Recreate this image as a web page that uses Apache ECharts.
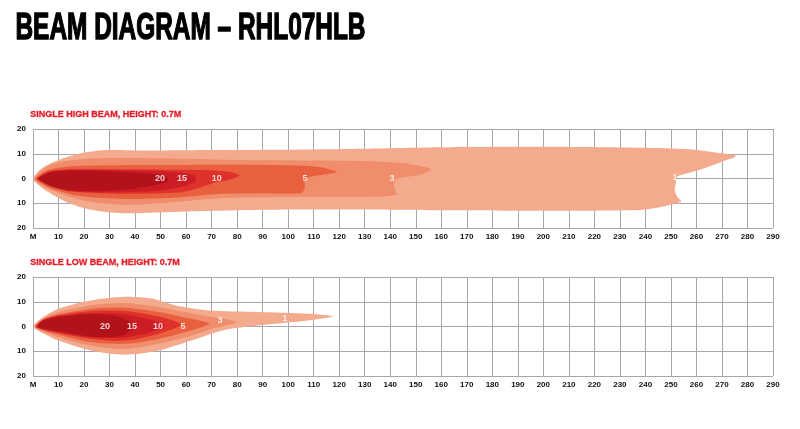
<!DOCTYPE html>
<html><head><meta charset="utf-8">
<script src="https://cdn.jsdelivr.net/npm/echarts@6/dist/echarts.min.js"></script>
<style>html,body{margin:0;padding:0;background:#fff}#c{width:800px;height:429px}</style>
</head><body><div id="c"></div>
<script>
// ---- data ----
const titleText = 'BEAM DIAGRAM – RHL07HLB';
const highTitle = 'SINGLE HIGH BEAM, HEIGHT: 0.7M';
const lowTitle = 'SINGLE LOW BEAM, HEIGHT: 0.7M';
const xTicks = [0,10,20,30,40,50,60,70,80,90,100,110,120,130,140,150,160,170,180,190,200,210,220,230,240,250,260,270,280,290];
const yTicks = [-20,-10,0,10,20];
const luxLevels = ['1','3','5','10','15','20'];

// high beam isolux contours [distance m, width m]
const highLux1 = [[0,0],[4,4.5],[10,7.5],[18,10],[28,11.5],[45,11.3],[70,11.5],[100,11.6],[130,12],[160,12.6],[200,12.8],[238,12.4],[257,11.8],[268,10.4],[275.5,9.1],[270,6.8],[261,3.4],[255,1.7],[252.5,0.8],[252,-1.5],[251.5,-4.5],[252.5,-7.5],[254,-9.3],[246,-11.5],[238,-12.7],[200,-13],[160,-12.8],[120,-12.5],[90,-12.6],[60,-13.3],[35,-14],[22,-12.5],[13,-9.5],[6,-5.5],[2,-2.5]];
const highLux3 = [[0.5,0],[5,4.5],[12,7],[25,8.2],[50,8.2],[80,7.5],[110,7.3],[132,7],[145,6.3],[152,5],[156,3.8],[152,1.6],[145,0.4],[142,-0.5],[141.5,-3.5],[142.5,-6.6],[132,-7.4],[100,-7.5],[73,-8],[50,-10],[35,-10.6],[20,-9],[9,-5.5],[3,-2.5]];
const highLux5 = [[1,0],[6,3.5],[15,5],[30,5.4],[60,5.5],[90,5.5],[104,5.3],[112,4.7],[119,2.6],[113,1.4],[108.5,0.7],[106.5,-1],[106.5,-4],[105,-5.9],[90,-6],[73,-6.3],[55,-7.8],[35,-8.3],[18,-7],[7,-4],[2.5,-1.5]];
const highLux10 = [[1.5,0],[6,2.8],[15,3.8],[40,3.6],[65,3.4],[76,2.8],[81,1.3],[77,-0.5],[72,-1.4],[66,-3.5],[57,-5.7],[35,-6.2],[18,-5.5],[7,-3.2],[3,-1.2]];
const highLux15 = [[1.8,0],[7,2.7],[15,3.4],[40,3.2],[55,2.6],[63,1.3],[64,-0.8],[60,-2.8],[50,-4.8],[30,-5.6],[15,-5.2],[7,-3.2],[3,-1]];
const highLux20 = [[2,0],[7,2.5],[15,3.1],[30,2.9],[44,2.1],[52,1],[53,-1],[48,-2.6],[38,-4.3],[25,-5],[14,-4.7],[7,-2.9],[3,-0.9]];

// low beam isolux contours
const lowLux1 = [[0,0],[4,3.8],[10,7.2],[23,10.6],[36,12],[46.5,11.3],[55.6,8.6],[68.7,6.5],[88,5.9],[108,5.2],[117.6,4.1],[108,2.4],[88,0.4],[75,-1.4],[62,-5.7],[49,-9.8],[36,-11.4],[23,-9.8],[10,-5.7],[3,-2.2]];
const lowLux3 = [[0.5,0],[4,3.3],[10,5.9],[23,8.6],[36,9.5],[49,7.9],[62,5.4],[70,3.8],[80,1.8],[70,-1],[62,-3.7],[49,-7],[36,-9.1],[23,-7.8],[10,-4.4],[3,-1.7]];
const lowLux5 = [[1,0],[4,2.9],[10,4.9],[23,7.2],[36,7.6],[49,5.9],[62,3.1],[69,1.1],[62,-1.6],[49,-5],[36,-7],[23,-6.4],[10,-3.3],[3,-1.3]];
const lowLux10 = [[1.2,0],[4,2.7],[10,4.5],[23,6.3],[36,6.3],[49,4.1],[58,0.8],[49,-3],[36,-5.7],[23,-5],[10,-2.7],[3,-1]];
const lowLux15 = [[1.4,0],[4,2.5],[10,4.1],[23,5.4],[36,4.9],[46,2.7],[51.7,0.4],[46,-2.3],[36,-4.4],[23,-4.4],[10,-2.3],[3,-0.8]];
const lowLux20 = [[1.6,0],[4,2.3],[10,3.8],[23,4.9],[33,4.1],[40,0.4],[35,-3.7],[23,-4.1],[10,-1.9],[3,-0.6]];

// label positions [distance, width, text]
const highLabels = [[49.8,0,'20'],[58.4,0,'15'],[72,0,'10'],[106.6,0,'5'],[140.7,0,'3'],[251.6,0.2,'1']];
const lowLabels = [[28.2,0,'20'],[38.8,0,'15'],[49,0,'10'],[58.8,0,'5'],[73.3,2.4,'3'],[98.7,3.3,'1']];

// ---- styles ----
const luxColors = ['#f4ab8d','#ef8d6c','#e9603f','#df302b','#cc1d25','#b2131b'];
const gridColor = '#a3a7b0';
const font = '"Liberation Sans Narrow", "Liberation Sans", sans-serif';

const highContours = [highLux1, highLux3, highLux5, highLux10, highLux15, highLux20];
const lowContours = [lowLux1, lowLux3, lowLux5, lowLux10, lowLux15, lowLux20];

function contourSeries(contours, idx) {
  return {
    type: 'custom', xAxisIndex: idx, yAxisIndex: idx, clip: true, silent: true,
    data: contours.map((c, i) => [c[0][0], c[0][1], i]),
    renderItem: function (params, api) {
      const i = params.dataIndex;
      const pts = contours[i].map(p => api.coord(p));
      return { type: 'polygon', shape: { points: pts, smooth: 0.25 }, style: { fill: luxColors[i] } };
    }
  };
}
function labelSeries(labels, idx) {
  return {
    type: 'scatter', xAxisIndex: idx, yAxisIndex: idx, symbolSize: 1, silent: true,
    itemStyle: { color: 'rgba(0,0,0,0)' }, z: 5,
    data: labels.map(l => ({ value: [l[0], l[1]], name: l[2] })),
    label: { show: true, position: 'inside', formatter: p => p.name, color: '#fff',
      fontFamily: font, fontWeight: 'bold', fontSize: 9 }
  };
}
function xAxisDef(idx) {
  return { type: 'value', gridIndex: idx, min: xTicks[0], max: xTicks[xTicks.length - 1], interval: 10,
    axisLine: { show: false }, axisTick: { show: false },
    splitLine: { show: true, lineStyle: { color: gridColor, width: 1 } },
    axisLabel: { margin: 5, fontSize: 8, fontWeight: 'bold', fontFamily: font, color: '#111',
      formatter: v => (v === 0 ? 'M' : String(v)) } };
}
function yAxisDef(idx) {
  return { type: 'value', gridIndex: idx, min: yTicks[0], max: yTicks[yTicks.length - 1], interval: 10,
    axisLine: { show: false }, axisTick: { show: false },
    splitLine: { show: true, lineStyle: { color: gridColor, width: 1 } },
    axisLabel: { margin: 7, fontSize: 8, fontWeight: 'bold', fontFamily: font, color: '#111',
      formatter: v => String(Math.abs(v)) } };
}

const chart = echarts.init(document.getElementById('c'), null, { renderer: 'canvas' });
chart.setOption({
  backgroundColor: '#fff',
  animation: false,
  graphic: [
    { type: 'text', left: 15, top: 10, scaleX: 0.66,
      style: { text: titleText, fill: '#000', font: 'bold 37px ' + font,
        stroke: '#000', lineWidth: 1.4 } },
    { type: 'text', left: 30, top: 110,
      style: { text: highTitle, fill: '#e3202a', font: 'bold 9px ' + font,
        stroke: '#e3202a', lineWidth: 0.3 } },
    { type: 'text', left: 30, top: 258,
      style: { text: lowTitle, fill: '#e3202a', font: 'bold 9px ' + font,
        stroke: '#e3202a', lineWidth: 0.3 } }
  ],
  grid: [
    { left: 33, right: 27, top: 129, height: 99 },
    { left: 33, right: 27, top: 277, height: 99 }
  ],
  xAxis: [xAxisDef(0), xAxisDef(1)],
  yAxis: [yAxisDef(0), yAxisDef(1)],
  series: [
    contourSeries(highContours, 0), labelSeries(highLabels, 0),
    contourSeries(lowContours, 1), labelSeries(lowLabels, 1)
  ]
});
</script></body></html>
